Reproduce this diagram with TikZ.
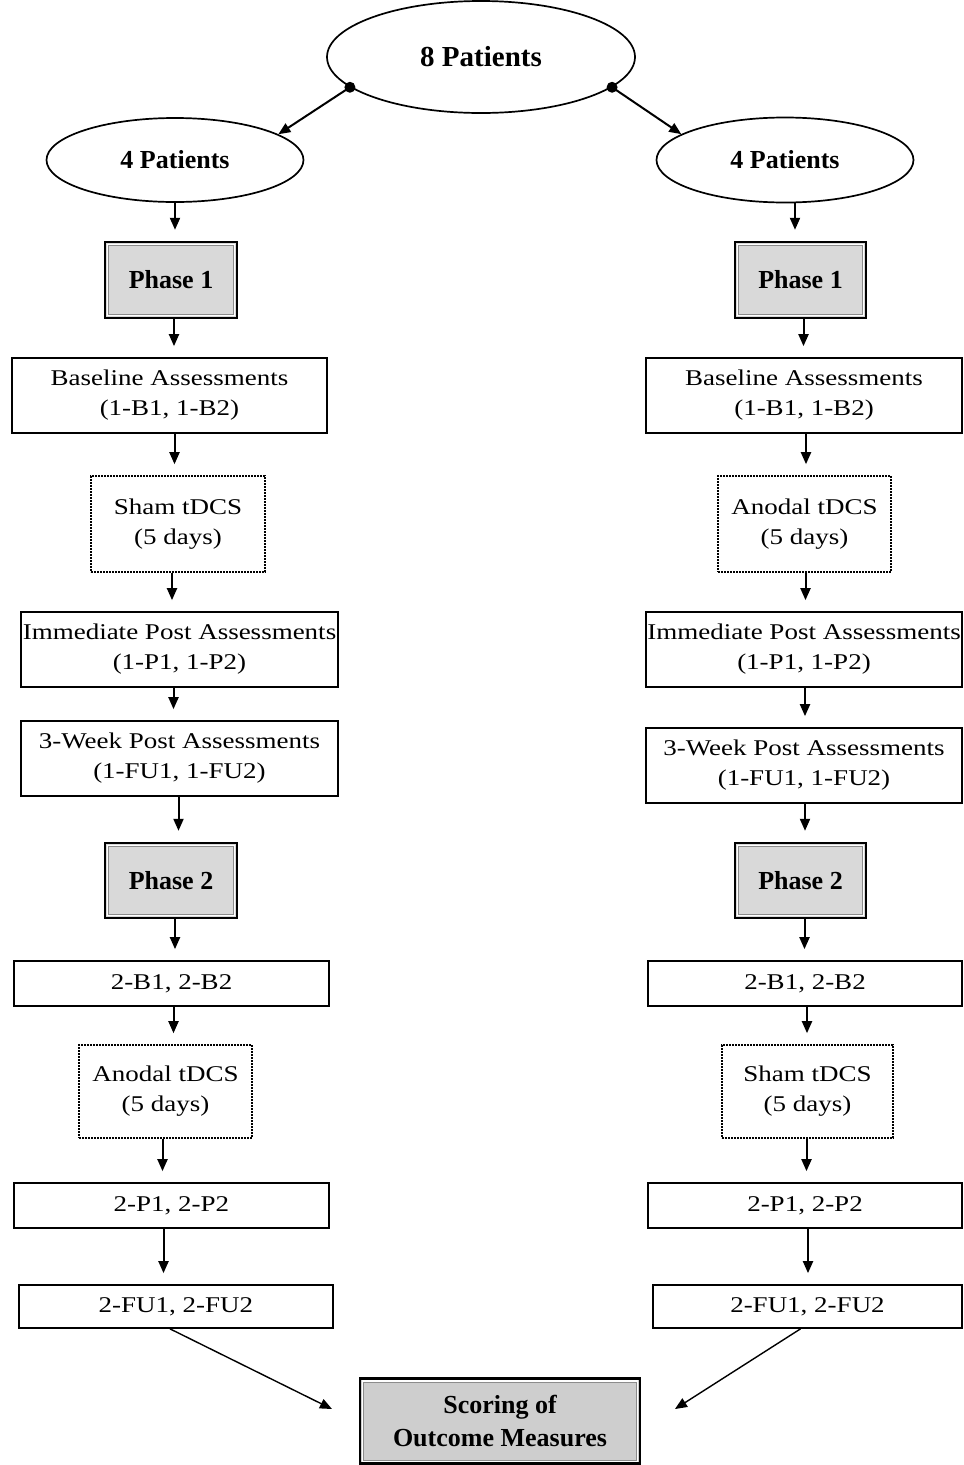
\documentclass[tikz,border=0pt]{standalone}
\usepackage{fontspec}
\setmainfont{Liberation Serif}
\newfontfamily\regfont[FakeStretch=1.2]{Liberation Serif}
\usetikzlibrary{shapes.geometric,arrows.meta}
\definecolor{phasegray}{RGB}{217,217,217}
\definecolor{scoregray}{RGB}{206,206,206}
\newcommand\vconn[3]{\draw[arr,shorten >=11pt] ([xshift=#3pt]#1.south) coordinate (tmp) -- (tmp |- #2.north);}
\begin{document}
\begin{tikzpicture}[x=1pt,y=-1pt,
  box/.style={draw,line width=1.7pt,inner sep=0pt,align=center,font=\regfont\fontsize{22.5}{30}\selectfont},
  dotbox/.style={box,line width=1.6pt,dash pattern=on 1.6pt off 1.4pt},
  phasebox/.style={draw,line width=2.4pt,fill=phasegray,inner sep=0pt,align=center,font=\bfseries\fontsize{26}{33}\selectfont,
    path picture={\draw[white,line width=1.4pt] ([shift={(2.6pt,-2.6pt)}]path picture bounding box.north west) rectangle ([shift={(-2.6pt,2.6pt)}]path picture bounding box.south east);
      \draw[black!45,line width=0.6pt] ([shift={(3.6pt,-3.6pt)}]path picture bounding box.north west) rectangle ([shift={(-3.6pt,3.6pt)}]path picture bounding box.south east);}},
  pell/.style={ellipse,draw,line width=1.7pt,inner sep=0pt,font=\bfseries\fontsize{26}{32}\selectfont},
  arr/.style={line width=2pt,-{Triangle[length=12pt,width=10pt]}},
  thinarr/.style={line width=1.4pt,-{Triangle[length=12pt,width=10pt]}},
  wh/.style 2 args={minimum width=#1pt,minimum height=#2pt}
]
\useasboundingbox (0,0) rectangle (964,1465);
\fill[white] (0,0) rectangle (964,1465);

% top
\node[pell,wh={308}{112},font=\bfseries\fontsize{29}{34}\selectfont] (P8) at (481,57) {8 Patients};
\node[pell,wh={257}{84}] (L4) at (175,160) {4 Patients};
\node[pell,wh={257}{85}] (R4) at (785,160) {4 Patients};

% left column
\node[phasebox,wh={132}{76}] (Lph1) at (171,280) {Phase 1};
\node[box,wh={315}{75}] (Lbase) at (169.5,395.5) {Baseline Assessments\\(1-B1, 1-B2)};
\node[dotbox,wh={174}{96}] (Lsham) at (178,524) {Sham tDCS\\(5 days)};
\node[box,wh={317}{75}] (Limm) at (179.5,649.5) {Immediate Post Assessments\\(1-P1, 1-P2)};
\node[box,wh={317}{75}] (L3w) at (179.5,758.5) {3-Week Post Assessments\\(1-FU1, 1-FU2)};
\node[phasebox,wh={132}{75}] (Lph2) at (171,880.5) {Phase 2};
\node[box,wh={315}{45}] (L2b) at (171.5,983.5) {2-B1, 2-B2};
\node[dotbox,wh={173}{93}] (Lanod) at (165.5,1091.5) {Anodal tDCS\\(5 days)};
\node[box,wh={315}{45}] (L2p) at (171.5,1205.5) {2-P1, 2-P2};
\node[box,wh={314}{43}] (L2fu) at (176,1306.5) {2-FU1, 2-FU2};

% right column
\node[phasebox,wh={131}{76}] (Rph1) at (800.5,280) {Phase 1};
\node[box,wh={316}{75}] (Rbase) at (804,395.5) {Baseline Assessments\\(1-B1, 1-B2)};
\node[dotbox,wh={173}{96}] (Ranod) at (804.5,524) {Anodal tDCS\\(5 days)};
\node[box,wh={316}{75}] (Rimm) at (804,649.5) {Immediate Post Assessments\\(1-P1, 1-P2)};
\node[box,wh={316}{75}] (R3w) at (804,765.5) {3-Week Post Assessments\\(1-FU1, 1-FU2)};
\node[phasebox,wh={131}{75}] (Rph2) at (800.5,880.5) {Phase 2};
\node[box,wh={314}{45}] (R2b) at (805,983.5) {2-B1, 2-B2};
\node[dotbox,wh={171}{93}] (Rsham) at (807.5,1091.5) {Sham tDCS\\(5 days)};
\node[box,wh={314}{45}] (R2p) at (805,1205.5) {2-P1, 2-P2};
\node[box,wh={309}{43}] (R2fu) at (807.5,1306.5) {2-FU1, 2-FU2};

% bottom
\node[phasebox,fill=scoregray,line width=2.2pt,wh={280}{85}] (Score) at (500,1421) {Scoring of\\Outcome Measures};

% top arrows with dots
\draw[arr] (P8.193) -- (L4.14);
\draw[arr] (P8.347) -- (R4.166);
\fill (P8.193) circle (5.5pt);
\fill (P8.347) circle (5.5pt);

% left vertical arrows
\vconn{L4}{Lph1}{0}
\vconn{Lph1}{Lbase}{3}
\vconn{Lbase}{Lsham}{5}
\vconn{Lsham}{Limm}{-6}
\vconn{Limm}{L3w}{-6}
\vconn{L3w}{Lph2}{-1}
\vconn{Lph2}{L2b}{4}
\vconn{L2b}{Lanod}{2}
\vconn{Lanod}{L2p}{-3}
\vconn{L2p}{L2fu}{-8}

% right vertical arrows
\vconn{R4}{Rph1}{10}
\vconn{Rph1}{Rbase}{3}
\vconn{Rbase}{Ranod}{2}
\vconn{Ranod}{Rimm}{1}
\vconn{Rimm}{R3w}{1}
\vconn{R3w}{Rph2}{1}
\vconn{Rph2}{R2b}{4}
\vconn{R2b}{Rsham}{2}
\vconn{Rsham}{R2p}{-1}
\vconn{R2p}{R2fu}{3}

% converging arrows
\coordinate (sl) at (332,1409);
\coordinate (sr) at (675,1409);
\draw[thinarr] ([xshift=-6pt]L2fu.south) -- (sl);
\draw[thinarr] ([xshift=-7pt]R2fu.south) -- (sr);
\end{tikzpicture}
\end{document}
